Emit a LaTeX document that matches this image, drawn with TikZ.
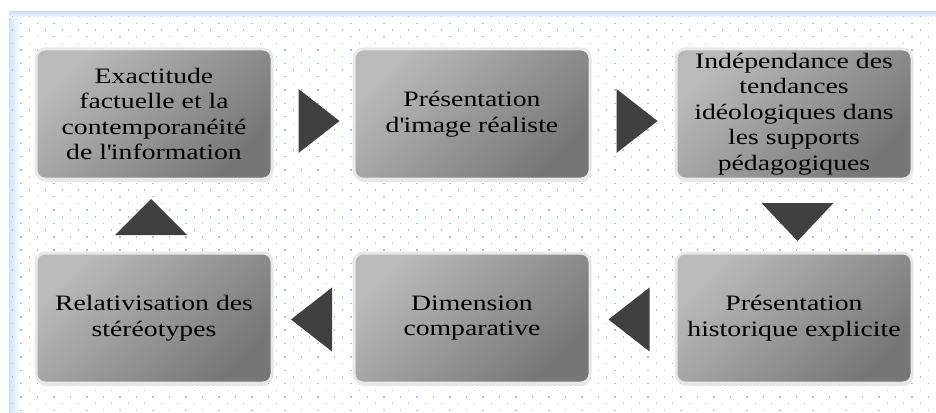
\documentclass[tikz,border=0pt]{standalone}
\usepackage{fontspec}
\setmainfont{Liberation Serif}[FakeStretch=1.26]
\usetikzlibrary{calc,shadows}
\definecolor{boxlight}{RGB}{186,186,186}
\definecolor{boxdark}{RGB}{118,118,118}
\definecolor{tricol}{RGB}{64,64,64}
\definecolor{dotcol}{RGB}{160,192,236}
\definecolor{edgeblue}{RGB}{208,225,247}
\tikzset{
  stage/.style={rectangle, rounded corners=9pt, minimum width=236pt, minimum height=130pt, inner sep=2pt,
    top color=boxlight, bottom color=boxdark, shading angle=45, draw=black!9, line width=3pt,
    drop shadow={opacity=0.18, shadow xshift=1pt, shadow yshift=-3pt},
    align=center, font=\fontsize{22}{25.5}\selectfont},
  tri/.style={fill=tricol}
}
\begin{document}
\begin{tikzpicture}[x=1pt, y=-1pt, line join=round]
  \useasboundingbox (0,0) rectangle (936,412);
  \fill[white] (0,0) rectangle (936,412);
  % dotted panel
  \shade[left color=edgeblue, right color=white] (9,12) rectangle (20,412);
  \shade[top color=edgeblue, bottom color=white] (9,12) rectangle (936,18);
  \foreach \j in {0,...,59}{
    \pgfmathsetmacro\dy{16+6.67*\j}
    \pgfmathsetmacro\dx{12+8.25*mod(\j,2)}
    \foreach \i in {0,...,55}
      \fill[dotcol] ({\dx+16.5*\i},\dy) rectangle ++(1.4,1.4);
  }
  % boxes
  \node[stage] (b1) at (154,114) {Exactitude\\factuelle et la\\contemporanéité\\de l\textquotesingle information};
  \node[stage] (b2) at (472,114) {Présentation\\d\textquotesingle image réaliste};
  \node[stage] (b3) at (794,114) {Indépendance des\\tendances\\idéologiques dans\\les supports\\pédagogiques};
  \node[stage] (b4) at (794,318) {Présentation\\historique explicite};
  \node[stage] (b5) at (472,318) {Dimension\\comparative};
  \node[stage] (b6) at (154,318) {Relativisation des\\stéréotypes};
  % triangles
  \path ($(b1.east)!0.5!(b2.west)$) ++(6,7) coordinate (t12);
  \path ($(b2.east)!0.5!(b3.west)$) ++(4,7) coordinate (t23);
  \path ($(b3.south)!0.5!(b4.north)$) ++(3.5,6) coordinate (t34);
  \path ($(b4.west)!0.5!(b5.east)$) ++(-4,1.5) coordinate (t45);
  \path ($(b5.west)!0.5!(b6.east)$) ++(-1.5,1.5) coordinate (t56);
  \path ($(b6.north)!0.5!(b1.south)$) ++(-3,1) coordinate (t61);
  \fill[tri] (t12) ++(-20.5,-32) -- ++(41,32) -- ++(-41,32) -- cycle;
  \fill[tri] (t23) ++(-20.5,-32) -- ++(41,32) -- ++(-41,32) -- cycle;
  \fill[tri] (t45) ++(20.5,-32) -- ++(-41,32) -- ++(41,32) -- cycle;
  \fill[tri] (t56) ++(20.5,-32) -- ++(-41,32) -- ++(41,32) -- cycle;
  \fill[tri] (t34) ++(-36,-19) -- ++(72,0) -- ++(-36,38) -- cycle;
  \fill[tri] (t61) ++(-36,18) -- ++(72,0) -- ++(-36,-36) -- cycle;
\end{tikzpicture}
\end{document}
